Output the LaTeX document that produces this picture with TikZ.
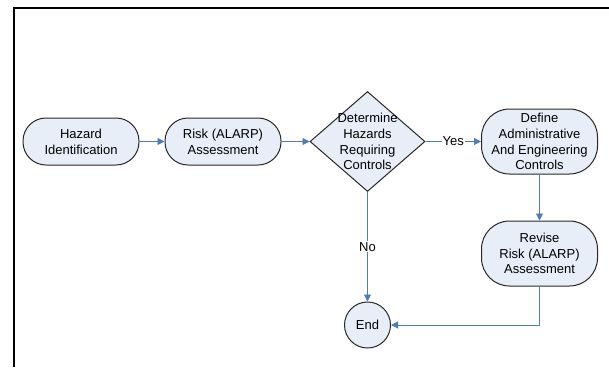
\documentclass[tikz,border=0pt]{standalone}
\usepackage{fontspec}
\setmainfont{Liberation Sans}
\definecolor{boxfill}{RGB}{232, 238, 247}
\definecolor{flowblue}{RGB}{74, 126, 187}
\definecolor{boxline}{RGB}{40, 40, 40}
\usetikzlibrary{shapes.geometric, arrows.meta, calc}

\begin{document}
\begin{tikzpicture}[x=1pt, y=-1pt,
    txt/.style={font=\fontsize{13}{15.7}\selectfont, align=center},
    process/.style={draw=boxline, line width=1pt, fill=boxfill, txt,
      rounded corners=23pt, minimum width=116pt, inner sep=0pt},
    tall/.style={process, minimum height=65pt, rounded corners=28pt},
    decision/.style={draw=boxline, line width=1pt, fill=boxfill, diamond,
      minimum width=115pt, minimum height=100pt, inner sep=0pt},
    terminal/.style={draw=boxline, line width=1pt, fill=boxfill, txt,
      circle, minimum size=46pt, inner sep=0pt},
    flow/.style={draw=flowblue, line width=0.9pt,
      -{Triangle[length=7pt, width=7pt]}},
    answer/.style={txt, fill=white, inner sep=1pt}]
    \useasboundingbox (0,0) rectangle (609,367);

    % Frame
    \draw[line width=2pt] (14,367) -- (14,7.5) -- (609,7.5);

    % Process steps
    \node[process, minimum height=47pt] (hazard) at (81, 141.5)
      {Hazard\\Identification};
    \node[process, minimum height=47pt] (risk) at (223, 141.5)
      {Risk (ALARP)\\Assessment};
    \node[decision, label={[txt]center:Determine\\Hazards\\Requiring\\Controls}]
      (determine) at (367.5, 141.5) {};
    \node[tall] (define) at (539.5, 141.5)
      {Define\\Administrative\\And Engineering\\Controls};
    \node[tall] (revise) at (539.5, 253.5)
      {Revise\\Risk (ALARP)\\Assessment};
    \node[terminal] (end) at (367.5, 325) {End};

    % Connectors
    \draw[flow] (hazard) -- (risk);
    \draw[flow] (risk) -- (determine);
    \draw[flow] (determine) -- node[answer] {Yes} (define);
    \draw[flow] (determine) -- node[answer] {No} (end);
    \draw[flow] (define) -- (revise);
    \draw[flow] (revise) |- (end);
  \end{tikzpicture}
\end{document}
